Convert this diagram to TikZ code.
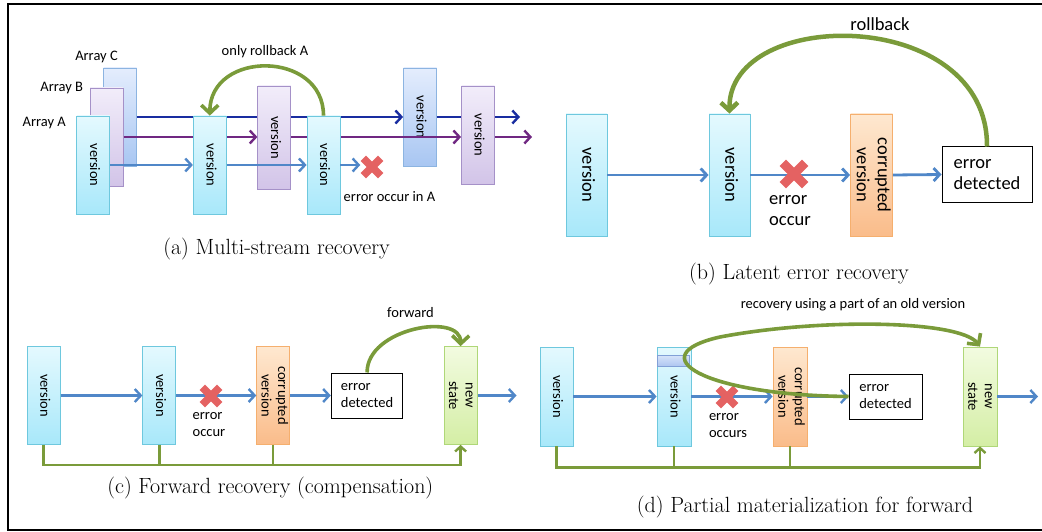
\documentclass[tikz,border=0pt]{standalone}
\usepackage{amsmath}
\usepackage{graphicx}
\usepackage{fontspec}
\usetikzlibrary{arrows.meta}
\newfontfamily\calfont{Carlito}

\definecolor{flowblue}{RGB}{80,135,200}
\definecolor{arrdark}{RGB}{25,45,160}
\definecolor{arrpurp}{RGB}{112,40,130}
\definecolor{rollgreen}{RGB}{122,155,58}
\definecolor{errred}{RGB}{228,98,98}
\definecolor{cyanedge}{RGB}{110,200,222}
\definecolor{cyantop}{RGB}{228,249,254}
\definecolor{cyanbot}{RGB}{168,232,250}
\definecolor{purpedge}{RGB}{165,145,200}
\definecolor{purptop}{RGB}{242,237,250}
\definecolor{purpbot}{RGB}{210,196,232}
\definecolor{blueedge}{RGB}{140,180,225}
\definecolor{bluetop}{RGB}{228,237,253}
\definecolor{bluebot}{RGB}{168,198,242}
\definecolor{corredge}{RGB}{245,175,110}
\definecolor{corrtop}{RGB}{254,232,208}
\definecolor{corrbot}{RGB}{250,188,138}
\definecolor{newedge}{RGB}{175,215,120}
\definecolor{newtop}{RGB}{242,251,224}
\definecolor{newbot}{RGB}{212,238,165}
\definecolor{partedge}{RGB}{130,160,215}
\definecolor{parttop}{RGB}{215,228,250}
\definecolor{partbot}{RGB}{175,198,240}

\newcommand{\vtext}[1]{\rotatebox{-90}{\begin{tabular}{@{}c@{}}#1\end{tabular}}}
\newcommand{\errmark}[4]{%
	\node [errbox, minimum size=#3] (#1) at (#2) {};
	\draw [errx, line width=#4] (#1.north west) -- (#1.south east) (#1.north east) -- (#1.south west) ;}

\tikzset{
	vbox/.style={draw, line width=0.8pt, inner sep=0pt, minimum width=33pt, minimum height=98pt},
	cyanbox/.style={vbox, draw=cyanedge, top color=cyantop, bottom color=cyanbot},
	purpbox/.style={vbox, draw=purpedge, top color=purptop, bottom color=purpbot},
	bluebox/.style={vbox, draw=blueedge, top color=bluetop, bottom color=bluebot},
	corrbox/.style={vbox, draw=corredge, top color=corrtop, bottom color=corrbot},
	newbox/.style={vbox, draw=newedge, top color=newtop, bottom color=newbot},
	partbox/.style={draw=partedge, line width=0.8pt, inner sep=0pt, top color=parttop, bottom color=partbot},
	detbox/.style={draw=black, line width=1pt, fill=white, inner sep=0pt, align=left},
	errbox/.style={inner sep=0pt},
	errx/.style={draw=errred},
	flow/.style={draw=flowblue, line width=2.4pt, -{Straight Barb[length=6pt,width=13pt]}},
	flowdark/.style={flow, draw=arrdark},
	flowpurp/.style={flow, draw=arrpurp},
	rollarc/.style={draw=rollgreen, line width=3.6pt, -{Straight Barb[length=8pt,width=17pt]}},
	bus/.style={draw=rollgreen, line width=2.4pt},
	busarrow/.style={bus, -{Straight Barb[length=5pt,width=11pt]}},
	txta/.style={font=\calfont\fontsize{14.5}{16.5}\selectfont},
	txtb/.style={font=\calfont\fontsize{18.5}{21}\selectfont},
	capt/.style={font=\fontsize{22}{26}\selectfont},
}

\begin{document}
\begin{tikzpicture}[x=1pt,y=1pt,yscale=-1,xscale=1]
			\useasboundingbox (0,0) rectangle (1042,532);
			%Frame
			\draw [line width=2.5pt] (1042,4) -- (8,4) -- (8,530) -- (1042,530) ;

			%%% (a) Multi-stream recovery
			%Shape: Rectangle [array C]
			\node [bluebox] (arrC) at (120,117) {};
			\node [bluebox, txta] (c2) at (420,117) {\vtext{version}};
			%Straight Lines [array C]
			\coordinate (aendC) at (520,117) ;
			\draw [flowdark] (arrC.east) -- (c2.west) ;
			\draw [flowdark] (c2.east) -- (aendC) ;
			%Shape: Rectangle [array B]
			\node [purpbox] (arrB) at (106.6,137) {};
			\node [purpbox, txta, minimum height=103pt] (b2) at (274.3,137.5) {\vtext{version}};
			\node [purpbox, txta] (b3) at (478,135) {\vtext{version}};
			%Straight Lines [array B]
			\coordinate (aendB) at (532,137) ;
			\draw [flowpurp] (arrB.east) -- (b2.west |- arrB.east) ;
			\draw [flowpurp] (b2.east |- aendB) -- (b3.west |- aendB) ;
			\draw [flowpurp] (b3.east |- aendB) -- (aendB) ;
			%Shape: Rectangle [array A]
			\node [cyanbox, txta] (arrA) at (93.3,165) {\vtext{version}};
			\node [cyanbox, txta] (a2) at (209.8,165) {\vtext{version}};
			\node [cyanbox, txta] (a3) at (323.5,165) {\vtext{version}};
			\errmark{ea}{372,167}{17pt}{7.5pt}
			%Straight Lines [array A]
			\draw [flow] (arrA.east) -- (a2.west) ;
			\draw [flow] (a2.east) -- (a3.west) ;
			\draw [flow, shorten >=3pt] (a3.east) -- (ea.west |- a3.east) ;
			%Curve Lines
			\draw [rollarc] (a3.north) .. controls (323.5,50) and (209.8,50) .. (a2.north) ;
			%Text
			\node [txta] (lrolla) at (265,52) {only rollback A};
			\node [txta] (lC) at (96.5,57) {Array C};
			\node [txta] (lB) at (61.8,88) {Array B};
			\node [txta] (lA) at (44.3,123) {Array A};
			\node [txta] (lerra) at (389.5,197) {error occur in A};
			\node [capt] (capa) at (276.5,249) {(a) Multi-stream recovery};

			%%% (b) Latent error recovery
			%Shape: Rectangle
			\node [cyanbox, txtb, minimum width=41pt, minimum height=122pt] (bv1) at (586.5,175) {\vtext{version}};
			\node [cyanbox, txtb, minimum width=41pt, minimum height=122pt] (bv2) at (729.5,175) {\vtext{version}};
			\node [corrbox, txtb, minimum width=41pt, minimum height=122pt] (bcor) at (871.5,175) {\vtext{corrupted\\version}};
			\node [detbox, txtb, minimum width=90pt, minimum height=55pt] (bdet) at (987,174.5) {error\\detected};
			%Straight Lines
			\draw [flow, line width=2.8pt] (bv1.east) -- (bv2.west) ;
			\draw [flow, line width=2.8pt] (bv2.east) -- (bcor.west) ;
			\draw [flow, line width=2.8pt] (bcor.east) -- (bdet.west) ;
			\errmark{eb}{794,174}{22pt}{9pt}
			%Curve Lines
			\draw [rollarc, line width=4.5pt] (bdet.north) .. controls (988,6) and (728,6) .. (bv2.north) ;
			%Text
			\node [txtb] (lrollb) at (880,24) {rollback};
			\node [txtb, align=left] (lerrb) at (790,210.5) {error\\occur};
			\node [capt] (capb) at (799,274) {(b) Latent error recovery};

			%%% (c) Forward recovery
			%Shape: Rectangle
			\node [cyanbox, txta] (cv1) at (43.6,395.5) {\vtext{version}};
			\node [cyanbox, txta] (cv2) at (159.3,395.5) {\vtext{version}};
			\node [corrbox, txta] (ccor) at (273.2,395.5) {\vtext{corrupted\\version}};
			\node [detbox, txta, minimum width=71.6pt, minimum height=45pt] (cdet) at (367.1,395.5) {error\\detected};
			\node [newbox, txta] (cnew) at (460.6,395.5) {\vtext{new\\state}};
			%Straight Lines
			\coordinate (cout) at (516.5,395.5) ;
			\draw [flow] (cv1.east) -- (cv2.west) ;
			\draw [flow] (cv2.east) -- (ccor.west) ;
			\draw [flow] (ccor.east) -- (cdet.west) ;
			\draw [flow] (cnew.east) -- (cout) ;
			\errmark{ec}{211,396}{17pt}{7.5pt}
			\draw [busarrow] (cv1.south) -- ++(0,20) -| (cnew.south) ;
			\draw [bus] (cv2.south) -- ++(0,20) ;
			\draw [bus] (ccor.south) -- ++(0,20) ;
			%Curve Lines
			\draw [rollarc] (cdet.north) .. controls (366.7,328) and (461,312) .. (cnew.north) ;
			%Text
			\node [txta] (lfwd) at (410.5,313) {forward};
			\node [txta, align=left] (lerrc) at (209,424.5) {error\\occur};
			\node [capt] (capc) at (270.3,488) {(c) Forward recovery (compensation)};

			%%% (d) Partial materialization
			%Shape: Rectangle
			\node [cyanbox, txta, minimum height=99pt] (dv1) at (556.5,396.5) {\vtext{version}};
			\node [cyanbox, txta, minimum width=34pt, minimum height=99pt] (dv2) at (674,396.5) {\vtext{version}};
			\node [partbox, minimum width=32pt, minimum height=11pt] (dpart) at (673,360.5) {};
			\node [corrbox, txta, minimum width=34pt, minimum height=99pt] (dcor) at (790,396.5) {\vtext{corrupted\\version}};
			\node [detbox, txta, minimum width=73pt, minimum height=45pt] (ddet) at (885.5,396.5) {error\\detected};
			\node [newbox, txta, minimum width=34pt, minimum height=99pt] (dnew) at (980,396.5) {\vtext{new\\state}};
			%Straight Lines
			\coordinate (dout) at (1038,396.5) ;
			\draw [flow] (dv1.east) -- (dv2.west) ;
			\draw [flow] (dv2.east) -- (dcor.west) ;
			\draw [flow] (dcor.east) -- (ddet.west) ;
			\draw [flow] (dnew.east) -- (dout) ;
			\errmark{ed}{727,397}{17pt}{7.5pt}
			\draw [busarrow] (dv1.south) -- ++(0,21) -| (dnew.south) ;
			\draw [bus] (dv2.south) -- ++(0,21) ;
			\draw [bus] (dcor.south) -- ++(0,21) ;
			%Curve Lines
			\draw [rollarc] (ddet.west) .. controls (700,395) and (640,355) .. (720,337) .. controls (820,318) and (960,320) .. (dnew.north) ;
			%Text
			\node [txta] (lpart) at (853,305) {recovery using a part of an old version};
			\node [txta, align=left] (lerrd) at (728,425.5) {error\\occurs};
			\node [capt] (capd) at (805,507) {(d) Partial materialization for forward};

\end{tikzpicture}
\end{document}
